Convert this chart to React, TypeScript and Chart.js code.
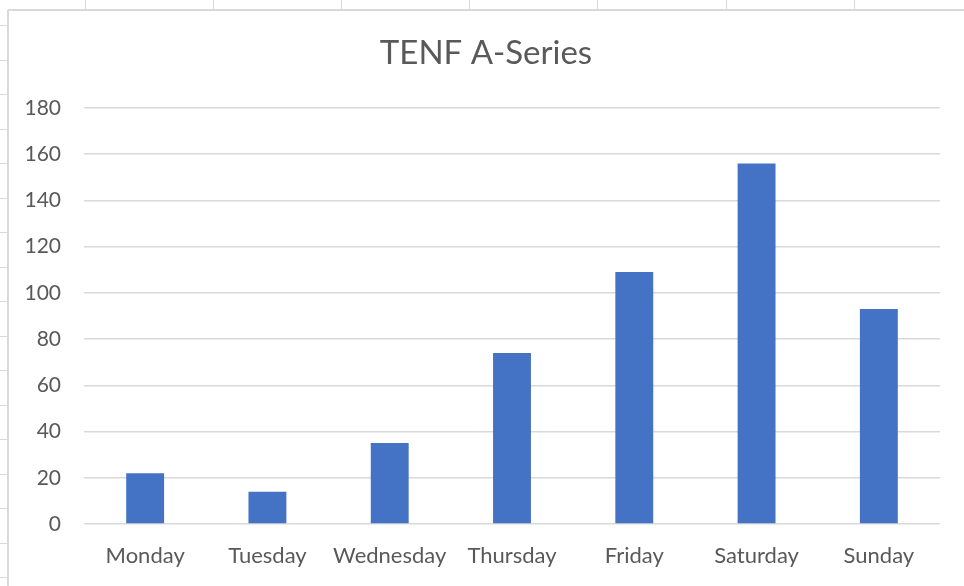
import React, { useEffect, useRef } from "react";
import { Chart, registerables } from "chart.js";

Chart.register(...registerables);

const categories = ["Monday", "Tuesday", "Wednesday", "Thursday", "Friday", "Saturday", "Sunday"];
const values = [22, 14, 35, 74, 109, 156, 93];
const titleText = "TENF A-Series";
const yMax = 180;
const yStep = 20;

const frameColor = "#d9d9d9";
const textColor = "#595959";
const barColor = "#4472c4";

const framePlugin = {
  id: "sheetFrame",
  beforeDraw(chart: any) {
    const ctx = chart.ctx;
    ctx.save();
    ctx.fillStyle = "#ffffff";
    ctx.fillRect(0, 0, chart.width, chart.height);
    ctx.strokeStyle = frameColor;
    ctx.lineWidth = 2;
    ctx.beginPath();
    ctx.moveTo(8, 10);
    ctx.lineTo(chart.width, 10);
    ctx.moveTo(8, 10);
    ctx.lineTo(8, chart.height);
    ctx.stroke();
    ctx.lineWidth = 1;
    ctx.beginPath();
    for (let x = 84.5; x < chart.width; x += 128.2) {
      const px = Math.round(x) + 0.5;
      ctx.moveTo(px, 0);
      ctx.lineTo(px, 10);
    }
    for (let y = 25; y < chart.height; y += 34.5) {
      const py = Math.round(y) + 0.5;
      ctx.moveTo(0, py);
      ctx.lineTo(8, py);
    }
    ctx.stroke();
    ctx.restore();
  },
  afterDraw(chart: any) {
    const ctx = chart.ctx;
    ctx.save();
    ctx.fillStyle = textColor;
    ctx.font = "normal 33px Lato";
    ctx.textAlign = "center";
    ctx.textBaseline = "middle";
    ctx.fillText(titleText, (8 + chart.width) / 2, 53);
    ctx.restore();
  },
};

export default function App() {
  const ref = useRef<HTMLCanvasElement>(null);
  useEffect(() => {
    document.body.style.margin = "0";
    const chart = new Chart(ref.current as HTMLCanvasElement, {
      type: "bar",
      data: {
        labels: categories,
        datasets: [
          {
            data: values,
            backgroundColor: barColor,
            borderWidth: 0,
            categoryPercentage: 1,
            barPercentage: 0.31,
          },
        ],
      },
      options: {
        animation: false,
        responsive: false,
        layout: { padding: { left: 0, right: 24, top: 108, bottom: 0 } },
        plugins: {
          legend: { display: false },
          tooltip: { enabled: false },
          title: { display: false },
        },
        scales: {
          x: {
            grid: { display: false, drawTicks: false },
            border: { display: false },
            ticks: {
              color: textColor,
              font: { family: "Lato", size: 22 },
              padding: 19,
              maxRotation: 0,
            },
            afterFit(scale: any) {
              scale.height = 62;
            },
          },
          y: {
            min: 0,
            max: yMax,
            grid: { color: frameColor, lineWidth: 1.5, drawTicks: false },
            border: { display: false },
            ticks: {
              stepSize: yStep,
              color: textColor,
              font: { family: "Lato", size: 21 },
              padding: 23,
            },
            afterFit(scale: any) {
              scale.width = 84;
            },
          },
        },
      },
      plugins: [framePlugin],
    });
    return () => chart.destroy();
  }, []);
  return (
    <div style={{ position: "absolute", left: 0, top: 0, width: 964, height: 586 }}>
      <canvas ref={ref} width={964} height={586} style={{ display: "block" }} />
    </div>
  );
}
